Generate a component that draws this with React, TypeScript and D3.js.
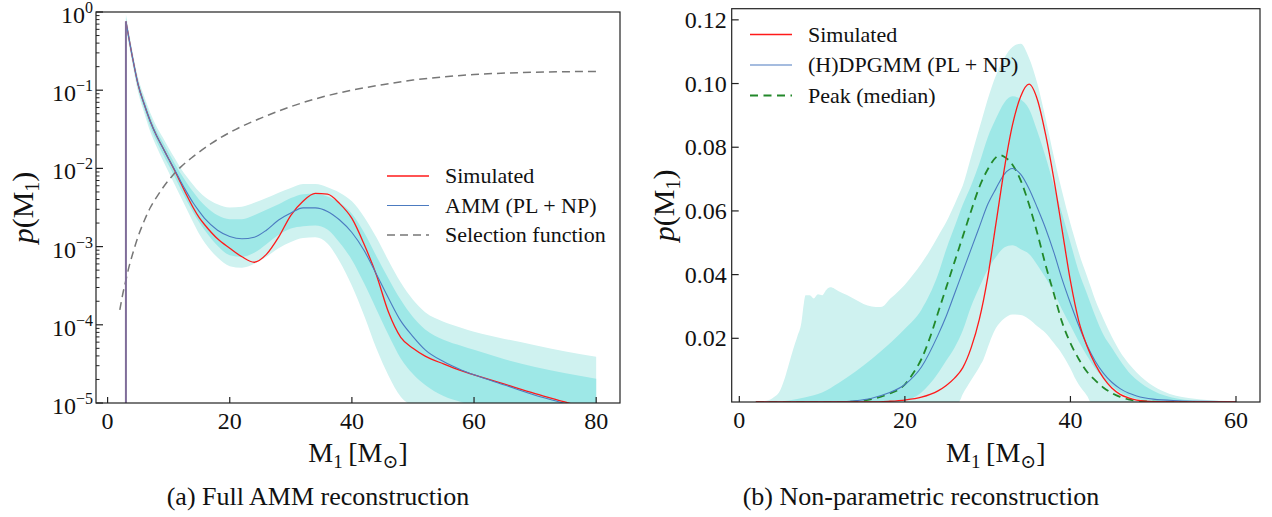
import React, { useEffect, useRef } from 'react';
import * as d3 from 'd3';

const FONT = "'Liberation Serif', 'DejaVu Serif', serif";

// ---------- (a) Full AMM reconstruction, values are log10 p(M1) ----------
const massA = [3, 4, 5, 6, 7, 8, 9, 10, 11, 12, 13, 14, 15, 16, 18, 20, 22, 24, 26, 28, 30, 32, 34, 36, 38, 40, 42, 44, 46, 48, 50, 52, 55, 58, 60, 65, 70, 75, 80];
const simulatedA = [-0.12, -0.55, -0.93, -1.18, -1.4, -1.58, -1.73, -1.88, -2.03, -2.19, -2.35, -2.5, -2.63, -2.73, -2.9, -3.02, -3.13, -3.2, -3.1, -2.88, -2.6, -2.42, -2.32, -2.33, -2.45, -2.64, -2.97, -3.36, -3.84, -4.16, -4.3, -4.4, -4.5, -4.59, -4.64, -4.76, -4.88, -4.99, -5.1];
const ammA = [-0.12, -0.55, -0.93, -1.18, -1.4, -1.58, -1.73, -1.88, -2.02, -2.17, -2.31, -2.44, -2.55, -2.65, -2.79, -2.87, -2.9, -2.88, -2.79, -2.66, -2.57, -2.505, -2.505, -2.55, -2.66, -2.82, -3.05, -3.35, -3.66, -3.95, -4.15, -4.32, -4.47, -4.58, -4.64, -4.77, -4.9, -5.01, -5.13];
// [mass, 90% low, 68% low, 68% high, 90% high]
const ammBandA: [number, number, number, number, number][] = [
  [3, -0.22, -0.17, -0.07, -0.03], [4, -0.64, -0.6, -0.5, -0.47], [5, -1.03, -0.98, -0.88, -0.84],
  [6, -1.29, -1.24, -1.12, -1.08], [7, -1.53, -1.47, -1.34, -1.29], [8, -1.72, -1.65, -1.52, -1.46],
  [9, -1.89, -1.81, -1.66, -1.6], [10, -2.05, -1.96, -1.8, -1.74], [11, -2.21, -2.11, -1.94, -1.87],
  [12, -2.37, -2.27, -2.07, -2.0], [13, -2.53, -2.42, -2.19, -2.11], [14, -2.69, -2.56, -2.3, -2.21],
  [15, -2.84, -2.69, -2.4, -2.3], [16, -2.96, -2.8, -2.48, -2.37], [18, -3.14, -2.99, -2.6, -2.46],
  [20, -3.25, -3.11, -2.65, -2.5], [22, -3.27, -3.13, -2.65, -2.49], [24, -3.22, -3.08, -2.6, -2.44],
  [26, -3.13, -2.97, -2.53, -2.38], [28, -3.02, -2.85, -2.46, -2.31], [30, -2.94, -2.77, -2.38, -2.25],
  [32, -2.89, -2.74, -2.33, -2.2], [34, -2.88, -2.73, -2.32, -2.2], [36, -2.96, -2.78, -2.36, -2.24],
  [38, -3.19, -2.95, -2.44, -2.31], [40, -3.5, -3.17, -2.58, -2.42], [42, -3.88, -3.47, -2.82, -2.62],
  [44, -4.3, -3.8, -3.12, -2.88], [46, -4.65, -4.13, -3.41, -3.18], [48, -4.92, -4.43, -3.68, -3.46],
  [50, -5.05, -4.63, -3.9, -3.68], [52, -5.2, -4.77, -4.06, -3.84], [55, -5.35, -4.91, -4.19, -3.96],
  [58, -5.45, -4.99, -4.27, -4.04], [60, -5.5, -5.04, -4.32, -4.09], [65, -5.6, -5.17, -4.44, -4.18],
  [70, -5.7, -5.28, -4.54, -4.26], [75, -5.8, -5.38, -4.62, -4.34], [80, -5.9, -5.45, -4.69, -4.41],
];
const selMassA = [2, 2.5, 3, 3.5, 4, 5, 6, 7, 8, 10, 12, 14, 17, 21, 25, 30, 35, 40, 45, 50, 55, 60, 70, 80];
const selectionA = [-3.81, -3.6, -3.43, -3.26, -3.12, -2.87, -2.67, -2.5, -2.37, -2.15, -1.98, -1.85, -1.68, -1.5, -1.36, -1.21, -1.09, -1.0, -0.93, -0.87, -0.83, -0.8, -0.77, -0.76];
const xTicksA = [0, 20, 40, 60, 80];
const yExpA = [-5, -4, -3, -2, -1, 0];

// ---------- (b) Non-parametric reconstruction, p(M1) ----------
const massSimB = [2, 16, 18, 20, 22, 24, 25, 26, 27, 28, 29, 30, 31, 32, 33, 34, 35, 36, 37, 38, 39, 40, 41, 42, 43, 44, 45, 46, 47, 48, 50, 55, 60];
const simulatedB = [0, 0, 0.0002, 0.0006, 0.0015, 0.0035, 0.0052, 0.0075, 0.0108, 0.017, 0.026, 0.039, 0.056, 0.073, 0.087, 0.096, 0.0998, 0.095, 0.084, 0.07, 0.054, 0.038, 0.0255, 0.0176, 0.0118, 0.0075, 0.0044, 0.0024, 0.0013, 0.0006, 0.0001, 0, 0];
const massDpB = [2, 12, 14, 16, 18, 20, 22, 24, 25, 26, 27, 28, 29, 30, 31, 32, 33, 34, 35, 36, 37, 38, 39, 40, 41, 42, 43, 44, 45, 46, 47, 48, 50, 53, 56, 60];
const dpgmmB = [0, 0.0001, 0.0004, 0.0012, 0.0028, 0.0055, 0.011, 0.021, 0.027, 0.034, 0.041, 0.048, 0.055, 0.062, 0.067, 0.0715, 0.0733, 0.0715, 0.067, 0.061, 0.0545, 0.047, 0.0385, 0.031, 0.024, 0.0178, 0.0128, 0.009, 0.0062, 0.0042, 0.0028, 0.0019, 0.0009, 0.0004, 0.0002, 0.0001];
const massPeakB = [2, 12, 14, 16, 18, 20, 21, 22, 23, 24, 25, 26, 27, 28, 29, 30, 31, 31.5, 32, 33, 34, 35, 36, 37, 38, 39, 40, 41, 42, 43, 44, 45, 46, 47, 48, 50, 55];
const peakB = [0, 0, 0.0002, 0.0009, 0.0025, 0.0055, 0.009, 0.0135, 0.02, 0.028, 0.036, 0.044, 0.052, 0.06, 0.0675, 0.073, 0.0768, 0.0775, 0.077, 0.0745, 0.0695, 0.062, 0.053, 0.043, 0.034, 0.025, 0.0185, 0.0135, 0.0095, 0.0068, 0.0045, 0.0028, 0.0016, 0.0008, 0.0004, 0.0001, 0];
// [mass, 90% low, 90% high]
const outerBandB: [number, number, number][] = [
  [2, 0, 0], [3, 0, 0.0003], [4, 0, 0.0012], [5, 0, 0.004], [5.5, 0, 0.0075], [6, 0, 0.012],
  [6.5, 0, 0.0165], [7, 0, 0.0205], [7.5, 0, 0.025], [7.8, 0, 0.031], [8, 0, 0.0335], [8.5, 0, 0.0335],
  [9, 0, 0.0325], [9.5, 0, 0.0338], [10, 0, 0.0335], [10.5, 0, 0.0352], [11, 0, 0.036], [11.5, 0, 0.0356],
  [12, 0, 0.0348], [13, 0, 0.0336], [14, 0, 0.0322], [15, 0, 0.0308], [16, 0, 0.03], [17, 0, 0.0298],
  [17.5, 0, 0.0303], [18, 0, 0.0318], [19, 0, 0.0342], [20, 0, 0.0368], [21, 0, 0.04], [22, 0, 0.0435],
  [23, 0, 0.0475], [24, 0, 0.052], [25, 0, 0.0565], [26, 0, 0.062], [26.5, 0, 0.065], [27, 0.0025, 0.068],
  [28, 0.0068, 0.077], [29, 0.011, 0.086], [29.5, 0.0134, 0.0905], [30, 0.017, 0.095], [30.5, 0.0205, 0.099],
  [31, 0.0232, 0.1025], [31.5, 0.025, 0.1055], [32, 0.0262, 0.108], [33, 0.0275, 0.1115], [34, 0.0273, 0.1125],
  [35, 0.026, 0.108], [36, 0.0238, 0.1], [37, 0.0217, 0.089], [38, 0.0185, 0.077], [39, 0.015, 0.066],
  [40, 0.0105, 0.056], [40.5, 0.0078, 0.0515], [41, 0.0055, 0.047], [42, 0.002, 0.0395], [42.5, 0, 0.0358],
  [43, 0, 0.032], [44, 0, 0.026], [45, 0, 0.0205], [46, 0, 0.0158], [47, 0, 0.0122], [48, 0, 0.0093],
  [50, 0, 0.005], [52, 0, 0.0025], [55, 0, 0.001], [58, 0, 0.0004], [60, 0, 0.0002],
];
// [mass, 68% low, 68% high]
const innerBandB: [number, number, number][] = [
  [3, 0, 0], [5, 0, 0.0002], [6, 0, 0.0005], [8, 0, 0.0015], [10, 0, 0.003], [12, 0, 0.006],
  [14, 0, 0.0095], [16, 0, 0.0135], [18, 0, 0.018], [20, 0.0005, 0.023], [22, 0.003, 0.029],
  [24, 0.009, 0.04], [25, 0.013, 0.048], [26, 0.017, 0.055], [27, 0.0225, 0.062], [28, 0.03, 0.068],
  [29, 0.036, 0.075], [30, 0.0415, 0.083], [31, 0.0455, 0.089], [32, 0.0485, 0.094], [33, 0.0492, 0.096],
  [34, 0.048, 0.095], [35, 0.0465, 0.092], [36, 0.043, 0.085], [37, 0.039, 0.077], [38, 0.0345, 0.068],
  [39, 0.029, 0.059], [40, 0.024, 0.05], [41, 0.019, 0.041], [42, 0.0145, 0.034], [43, 0.0105, 0.027],
  [44, 0.0075, 0.021], [45, 0.005, 0.017], [46, 0.003, 0.013], [47, 0.0018, 0.0095], [48, 0.001, 0.007],
  [50, 0.0002, 0.0035], [53, 0, 0.001], [56, 0, 0.0003], [60, 0, 0.0001],
];
const xTicksB = [0, 20, 40, 60];
const yTicksB = [0.02, 0.04, 0.06, 0.08, 0.1, 0.12];

const LIGHT = '#cff2f0';
const DARK = '#9ee8e7';
const RED = '#ff1a1a';
const BLUE = '#4c7bc0';
const GREEN = '#22882a';
const GREY = '#777777';

type G = d3.Selection<SVGGElement, unknown, null, undefined>;

function yLabel(g: G, x: number, y: number) {
  const t = g.append('text').attr('transform', `translate(${x},${y}) rotate(-90)`)
    .attr('text-anchor', 'middle').attr('font-family', FONT).attr('font-size', 30).attr('fill', '#111');
  t.append('tspan').attr('font-style', 'italic').text('p');
  t.append('tspan').text('(M');
  t.append('tspan').attr('font-size', 20).attr('dy', 6).text('1');
  t.append('tspan').attr('dy', -6).text(')');
}

function xLabel(g: G, x: number, y: number) {
  const t = g.append('text').attr('x', x).attr('y', y).attr('text-anchor', 'middle')
    .attr('font-family', FONT).attr('font-size', 28).attr('fill', '#111');
  t.append('tspan').text('M');
  t.append('tspan').attr('font-size', 19).attr('dy', 6).text('1');
  t.append('tspan').attr('dy', -6).text('\u2009[M');
  t.append('tspan').attr('font-size', 19).attr('dy', 6).text('\u2299');
  t.append('tspan').attr('dy', -6).text(']');
}

function legend(g: G, x0: number, rows: { y: number; label: string; color: string; width: number; dash?: string }[]) {
  rows.forEach(r => {
    g.append('line').attr('x1', x0).attr('x2', x0 + 42).attr('y1', r.y).attr('y2', r.y)
      .attr('stroke', r.color).attr('stroke-width', r.width).attr('stroke-dasharray', r.dash || null);
    g.append('text').attr('x', x0 + 58).attr('y', r.y + 7).attr('font-family', FONT)
      .attr('font-size', 22).attr('fill', '#111').text(r.label);
  });
}

export default function App() {
  const svgRef = useRef<SVGSVGElement>(null);

  useEffect(() => {
    if (!svgRef.current) return;
    const svg = d3.select(svgRef.current);
    svg.selectAll('*').remove();

    // ================= panel (a) =================
    const A = { l: 96, t: 12, r: 620, b: 403 };
    const xa = d3.scaleLinear().domain([-1.9, 83.9]).range([A.l, A.r]);
    const ya = d3.scaleLinear().domain([-5, 0]).range([A.b, A.t]);
    const ga = svg.append('g');
    ga.append('clipPath').attr('id', 'clipA').append('rect')
      .attr('x', A.l).attr('y', A.t).attr('width', A.r - A.l).attr('height', A.b - A.t);
    const pa = ga.append('g').attr('clip-path', 'url(#clipA)');

    const outerA = d3.area<[number, number, number, number, number]>()
      .x(d => xa(d[0])).y0(d => ya(d[1])).y1(d => ya(d[4])).curve(d3.curveMonotoneX);
    const innerA = d3.area<[number, number, number, number, number]>()
      .x(d => xa(d[0])).y0(d => ya(d[2])).y1(d => ya(d[3])).curve(d3.curveMonotoneX);
    pa.append('path').attr('d', outerA(ammBandA)).attr('fill', LIGHT);
    pa.append('path').attr('d', innerA(ammBandA)).attr('fill', DARK);

    const lineA = d3.line<number>().x((_, i) => xa(massA[i])).y(d => ya(d)).curve(d3.curveMonotoneX);
    const selLine = d3.line<number>().x((_, i) => xa(selMassA[i])).y(d => ya(d)).curve(d3.curveMonotoneX);
    pa.append('path').attr('d', selLine(selectionA)).attr('fill', 'none')
      .attr('stroke', GREY).attr('stroke-width', 1.5).attr('stroke-dasharray', '8,5');
    pa.append('path').attr('d', lineA(simulatedA)).attr('fill', 'none').attr('stroke', RED).attr('stroke-width', 1.3);
    pa.append('path').attr('d', lineA(ammA)).attr('fill', 'none').attr('stroke', BLUE).attr('stroke-width', 1.1);
    // both densities switch on at the minimum mass
    pa.append('line').attr('x1', xa(massA[0])).attr('x2', xa(massA[0]))
      .attr('y1', ya(-5)).attr('y2', ya(simulatedA[0])).attr('stroke', '#7f6d99').attr('stroke-width', 2);

    // ticks
    xTicksA.forEach(v => {
      ga.append('line').attr('x1', xa(v)).attr('x2', xa(v)).attr('y1', A.b).attr('y2', A.b - 6).attr('stroke', '#222').attr('stroke-width', 1.2);
      ga.append('text').attr('x', xa(v)).attr('y', A.b + 26).attr('text-anchor', 'middle')
        .attr('font-family', FONT).attr('font-size', 24).attr('fill', '#111').text(String(v));
    });
    yExpA.forEach(e => {
      ga.append('line').attr('x1', A.l).attr('x2', A.l + 7).attr('y1', ya(e)).attr('y2', ya(e)).attr('stroke', '#222').attr('stroke-width', 1.2);
      if (e < 0) {
        d3.range(2, 10).forEach(k => {
          const yy = ya(e + Math.log10(k));
          ga.append('line').attr('x1', A.l).attr('x2', A.l + 3.5).attr('y1', yy).attr('y2', yy).attr('stroke', '#222').attr('stroke-width', 1);
        });
      }
      const t = ga.append('text').attr('x', A.l - 3).attr('y', ya(e) + 11).attr('text-anchor', 'end')
        .attr('font-family', FONT).attr('font-size', 24).attr('fill', '#111');
      t.append('tspan').text('10');
      t.append('tspan').attr('font-size', 16).attr('dy', -10).text(e === 0 ? '0' : `\u2212${-e}`);
    });
    ga.append('rect').attr('x', A.l).attr('y', A.t).attr('width', A.r - A.l).attr('height', A.b - A.t)
      .attr('fill', 'none').attr('stroke', '#222').attr('stroke-width', 1.2);

    legend(ga, 387, [
      { y: 176, label: 'Simulated', color: RED, width: 1.3 },
      { y: 205.5, label: 'AMM (PL + NP)', color: BLUE, width: 1.1 },
      { y: 235, label: 'Selection function', color: GREY, width: 1.5, dash: '8,5' },
    ]);
    yLabel(ga, 33, (A.t + A.b) / 2);
    xLabel(ga, (A.l + A.r) / 2, 462);

    // ================= panel (b) =================
    const B = { l: 731.7, t: 8.7, r: 1260, b: 402 };
    const xb = d3.scaleLinear().domain([-0.92, 62.9]).range([B.l, B.r]);
    const yb = d3.scaleLinear().domain([0, 0.1235]).range([B.b, B.t]);
    const gb = svg.append('g');
    gb.append('clipPath').attr('id', 'clipB').append('rect')
      .attr('x', B.l).attr('y', B.t).attr('width', B.r - B.l).attr('height', B.b - B.t);
    const pb = gb.append('g').attr('clip-path', 'url(#clipB)');

    const bandB = d3.area<[number, number, number]>()
      .x(d => xb(d[0])).y0(d => yb(d[1])).y1(d => yb(d[2])).curve(d3.curveMonotoneX);
    pb.append('path').attr('d', bandB(outerBandB)).attr('fill', LIGHT);
    pb.append('path').attr('d', bandB(innerBandB)).attr('fill', DARK);

    const lineB = (ms: number[]) => d3.line<number>().x((_, i) => xb(ms[i])).y(d => yb(d)).curve(d3.curveMonotoneX);
    pb.append('path').attr('d', lineB(massPeakB)(peakB)).attr('fill', 'none')
      .attr('stroke', GREEN).attr('stroke-width', 1.8).attr('stroke-dasharray', '8,5.5');
    pb.append('path').attr('d', lineB(massDpB)(dpgmmB)).attr('fill', 'none').attr('stroke', BLUE).attr('stroke-width', 1.1);
    pb.append('path').attr('d', lineB(massSimB)(simulatedB)).attr('fill', 'none').attr('stroke', RED).attr('stroke-width', 1.3);

    xTicksB.forEach(v => {
      gb.append('line').attr('x1', xb(v)).attr('x2', xb(v)).attr('y1', B.b).attr('y2', B.b - 6).attr('stroke', '#222').attr('stroke-width', 1.2);
      gb.append('text').attr('x', xb(v)).attr('y', B.b + 26).attr('text-anchor', 'middle')
        .attr('font-family', FONT).attr('font-size', 24).attr('fill', '#111').text(String(v));
    });
    yTicksB.forEach(v => {
      gb.append('line').attr('x1', B.l).attr('x2', B.l + 7).attr('y1', yb(v)).attr('y2', yb(v)).attr('stroke', '#222').attr('stroke-width', 1.2);
      gb.append('text').attr('x', B.l - 5).attr('y', yb(v) + 8).attr('text-anchor', 'end')
        .attr('font-family', FONT).attr('font-size', 24).attr('fill', '#111').text(d3.format('.2f')(v));
    });
    gb.append('rect').attr('x', B.l).attr('y', B.t).attr('width', B.r - B.l).attr('height', B.b - B.t)
      .attr('fill', 'none').attr('stroke', '#222').attr('stroke-width', 1.2);

    legend(gb, 750, [
      { y: 34.5, label: 'Simulated', color: RED, width: 1.3 },
      { y: 65, label: '(H)DPGMM (PL + NP)', color: BLUE, width: 1.1 },
      { y: 95.5, label: 'Peak (median)', color: GREEN, width: 1.8, dash: '8,5.5' },
    ]);
    yLabel(gb, 674, (B.t + B.b) / 2);
    xLabel(gb, (B.l + B.r) / 2, 462);

    // captions
    svg.append('text').attr('x', 318).attr('y', 505).attr('text-anchor', 'middle')
      .attr('font-family', FONT).attr('font-size', 26).attr('fill', '#111').text('(a) Full AMM reconstruction');
    svg.append('text').attr('x', 921).attr('y', 505).attr('text-anchor', 'middle')
      .attr('font-family', FONT).attr('font-size', 26).attr('fill', '#111').text('(b) Non-parametric reconstruction');
  }, []);

  return (
    <svg ref={svgRef} width={1272} height={517}
      style={{ position: 'absolute', left: 0, top: 0, background: '#ffffff' }} />
  );
}
